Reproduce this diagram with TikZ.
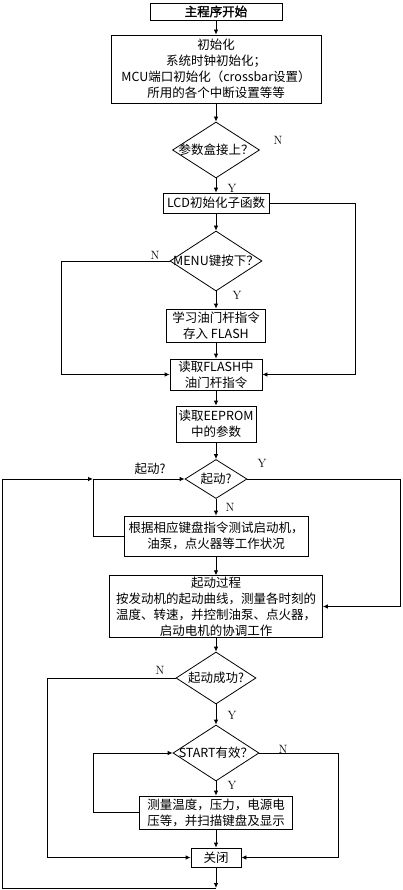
\documentclass[tikz,border=0pt]{standalone}
\usepackage{fontspec}
\newfontfamily\cjk{Noto Sans CJK SC}[AutoFakeBold=2]
\usetikzlibrary{arrows.meta,shapes.geometric}

\begin{document}
\begin{tikzpicture}[x=1pt, y=-1pt,
  box/.style={draw, line width=0.8pt, align=center, inner sep=1pt, font=\cjk\fontsize{12.5}{16}\selectfont},
  decision/.style={diamond, draw, line width=0.8pt, inner sep=0pt, font=\cjk\fontsize{12.5}{16}\selectfont},
  arrow/.style={-{Latex[length=5pt,width=4.5pt]}, line width=0.8pt},
  yn/.style={font=\fontsize{12}{12}\selectfont}
]
  \useasboundingbox (0,0) rectangle (402,890);

  % Main column
  \node[box, minimum width=132pt, minimum height=17pt] (start) at (216,11.5) {\bfseries 主程序开始};
  \node[box, minimum width=210pt, minimum height=68pt] (init) at (216,69)
    {初始化\\系统时钟初始化；\\MCU端口初始化（crossbar设置）\\所用的各个中断设置等等};
  \node[decision, minimum width=87pt, minimum height=56pt] (d1) at (216,150) {\makebox[0pt]{参数盒接上？}};
  \node[box, minimum width=106pt, minimum height=20pt] (lcd) at (216,203) {LCD初始化子函数};
  \node[decision, minimum width=92pt, minimum height=60pt] (d2) at (216,261) {\makebox[0pt]{MENU键按下？}};
  \node[box, minimum width=99pt, minimum height=33pt] (learn) at (216,325.5) {学习油门杆指令\\存入 FLASH};
  \node[box, minimum width=92pt, minimum height=31pt] (flash) at (216,374.5) {读取FLASH中\\油门杆指令};
  \node[box, minimum width=80pt, minimum height=36pt] (eeprom) at (216,424) {读取EEPROM\\中的参数};
  \node[decision, minimum width=62pt, minimum height=39pt] (d3) at (216,479) {\makebox[0pt]{起动?}};
  \node[box, minimum width=184pt, minimum height=40pt] (test) at (216,536)
    {根据相应键盘指令测试启动机，\\油泵，点火器等工作状况};
  \node[box, minimum width=213pt, minimum height=61pt] (proc) at (216,606.5)
    {起动过程\\按发动机的起动曲线，测量各时刻的\\温度、转速，并控制油泵、点火器，\\启动电机的协调工作};
  \node[decision, minimum width=80pt, minimum height=52pt] (d4) at (216,678) {\makebox[0pt]{起动成功?}};
  \node[decision, minimum width=86pt, minimum height=56pt] (d5) at (216,753) {\makebox[0pt]{START有效？}};
  \node[box, minimum width=153pt, minimum height=33pt] (meas) at (216,812.5)
    {测量温度，压力，电源电\\压等，并扫描键盘及显示};
  \node[box, minimum width=50pt, minimum height=19pt] (close) at (216,857.5) {关闭};
  \coordinate (join) at (93,479);
  \coordinate (bottom) at (216,888);

  % Straight arrows
  \draw[arrow] (start) -- (init);
  \draw[arrow] (init) -- (d1);
  \draw[arrow] (d1) -- (lcd);
  \draw[arrow] (lcd) -- (d2);
  \draw[arrow] (d2) -- (learn);
  \draw[arrow] (learn) -- (flash);
  \draw[arrow] (flash) -- (eeprom);
  \draw[arrow] (eeprom) -- (d3);
  \draw[arrow] (d3) -- (test);
  \draw[arrow] (test) -- (proc);
  \draw[arrow] (proc) -- (d4);
  \draw[arrow] (d4) -- (d5);
  \draw[arrow] (d5) -- (meas);
  \draw[arrow] (meas) -- (close);
  \draw[arrow] (close) -- (bottom);

  % Side branches
  \draw[arrow] (lcd.east) -- ++(86,0) |- (flash.east);
  \draw[arrow] (d2.west) -- ++(-108,0) |- (flash.west);
  \draw[arrow] (test.west) -| (join) -- (d3.west);
  \draw[arrow] (bottom) -- ++(-214,0) |- (join);
  \draw[arrow] (d3.east) -- ++(153,0) |- (proc.east);
  \draw[arrow] (d4.west) -- ++(-128,0) |- (close.west);
  \draw[arrow] (d5.east) -- ++(79,0) |- (close.east);
  \draw[arrow] (meas.west) -- ++(-46,0) |- (d5.west);

  % Labels
  \node[yn] (n1) at (278,140) {N};
  \node[yn] (y1) at (232,188) {Y};
  \node[yn] (n2) at (155,255) {N};
  \node[yn] (y2) at (237,295) {Y};
  \node[yn] (y3) at (262,463) {Y};
  \node[yn] (n3) at (230,507) {N};
  \node[yn] (n4) at (160,670) {N};
  \node[yn] (y4) at (232,715) {Y};
  \node[yn] (n5) at (283,749) {N};
  \node[yn] (y5) at (232,785) {Y};
  \node[font=\cjk\fontsize{12.5}{16}\selectfont] (qstart) at (150,469) {起动?};
\end{tikzpicture}
\end{document}
